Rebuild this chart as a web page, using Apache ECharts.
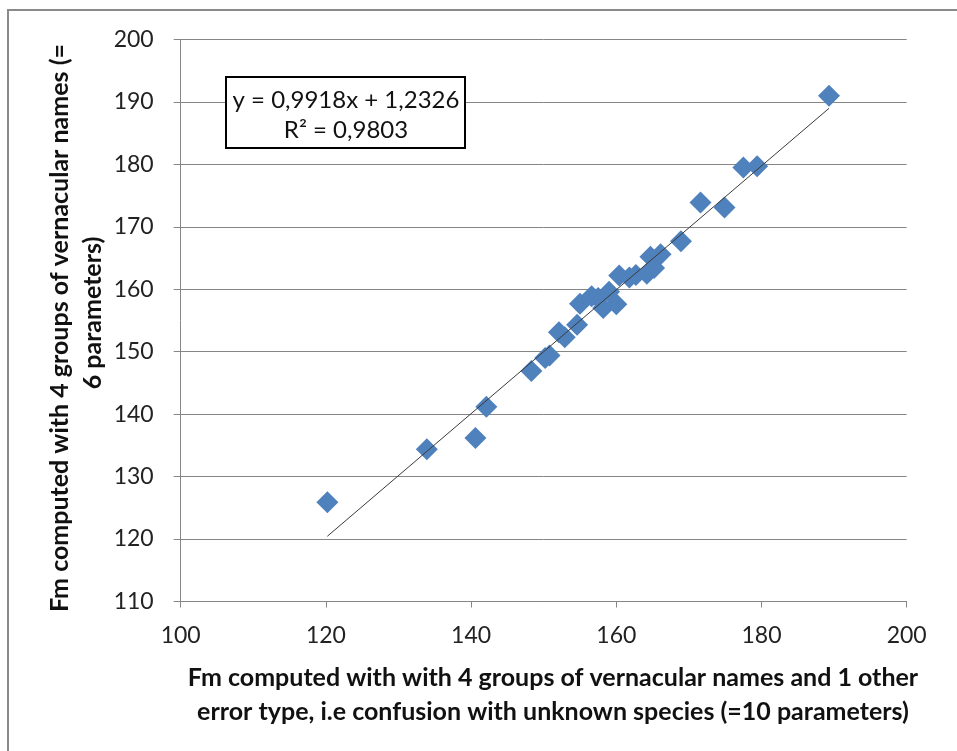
<!DOCTYPE html>
<html>
<head>
<meta charset="utf-8">
<script src="https://cdn.jsdelivr.net/npm/echarts@6/dist/echarts.min.js"></script>
<style>
html,body{margin:0;padding:0;background:#fff;}
#chart{width:957px;height:751px;}
</style>
</head>
<body>
<div id="chart"></div>
<script>
// Data
const xVals = [120.2, 133.9, 140.6, 142.1, 148.3, 150.2, 150.8, 152.1, 152.9, 154.6, 155.0, 156.6, 157.5, 158.2, 159.0, 160.0, 160.4, 161.8, 162.7, 164.2, 164.7, 165.2, 166.1, 168.9, 171.6, 174.9, 177.5, 179.4, 189.3];
const yVals = [125.9, 134.4, 136.2, 141.2, 146.9, 149.0, 149.4, 153.1, 152.3, 154.3, 157.7, 158.9, 158.6, 157.0, 159.6, 157.6, 162.2, 161.9, 162.3, 162.5, 165.2, 163.4, 165.6, 167.7, 173.9, 173.1, 179.5, 179.7, 191.0];
const xTicks = [100, 120, 140, 160, 180, 200];
const yTicks = [110, 120, 130, 140, 150, 160, 170, 180, 190, 200];
const trendSlope = 0.9918;
const trendIntercept = 1.2326;
const equationLines = ['y = 0,9918x + 1,2326', 'R² = 0,9803'];
const xTitleLines = ['Fm computed with with 4 groups of vernacular names and 1 other', 'error type, i.e confusion with unknown species (=10 parameters)'];
const yTitleLines = ['Fm computed with 4 groups of vernacular names (=', '6 parameters)'];

const points = xVals.map((x, i) => [x, yVals[i]]);
const xMinData = Math.min(...xVals), xMaxData = Math.max(...xVals);
const trend = [[xMinData, trendSlope * xMinData + trendIntercept], [xMaxData, trendSlope * xMaxData + trendIntercept]];

const FONT = 'Lato';
const chart = echarts.init(document.getElementById('chart'));
chart.setOption({
  animation: false,
  backgroundColor: '#fff',
  grid: {left: 180.7, right: 50.3, top: 39.5, bottom: 149.5, containLabel: false},
  xAxis: {
    type: 'value', min: xTicks[0], max: xTicks[xTicks.length - 1], interval: 20,
    axisLine: {show: true, lineStyle: {color: '#868686', width: 1}},
    axisTick: {show: true, inside: false, length: 6, lineStyle: {color: '#868686'}},
    splitLine: {show: false},
    axisLabel: {color: '#222', fontSize: 23, fontFamily: FONT, margin: 23}
  },
  yAxis: {
    type: 'value', min: yTicks[0], max: yTicks[yTicks.length - 1], interval: 10,
    axisLine: {show: true, lineStyle: {color: '#868686', width: 1}},
    axisTick: {show: true, inside: false, length: 7, lineStyle: {color: '#868686'}},
    splitLine: {show: true, lineStyle: {color: '#868686', width: 1}},
    axisLabel: {color: '#222', fontSize: 23, fontFamily: FONT, margin: 27}
  },
  series: [
    {
      type: 'scatter', data: points, symbol: 'diamond', symbolSize: 22,
      itemStyle: {color: '#4F81BD', opacity: 1}, z: 3
    },
    {
      type: 'line', data: trend, symbol: 'none', showSymbol: false,
      lineStyle: {color: '#3a3a3a', width: 1}, z: 4
    }
  ],
  graphic: [
    {type: 'rect', shape: {x: 8, y: 10, width: 1000, height: 800}, style: {fill: 'none', stroke: '#8a8a8a', lineWidth: 2}, z: -10, silent: true},
    {type: 'rect', shape: {x: 226, y: 77, width: 239, height: 71}, style: {fill: '#fff', stroke: '#000', lineWidth: 2}, z: 10},
    {type: 'text', x: 346, y: 100, z: 11, style: {text: equationLines[0], fontFamily: FONT, fontSize: 24, fill: '#111', align: 'center', verticalAlign: 'middle'}},
    {type: 'text', x: 346, y: 130, z: 11, style: {text: equationLines[1], fontFamily: FONT, fontSize: 24, fill: '#111', align: 'center', verticalAlign: 'middle'}},
    {type: 'text', x: 553, y: 678, style: {text: xTitleLines[0], fontFamily: FONT, fontWeight: 'bold', fontSize: 25, fill: '#111', align: 'center', verticalAlign: 'middle'}},
    {type: 'text', x: 553, y: 712, style: {text: xTitleLines[1], fontFamily: FONT, fontWeight: 'bold', fontSize: 25, fill: '#111', align: 'center', verticalAlign: 'middle'}},
    {type: 'text', x: 60, y: 328, rotation: Math.PI / 2, style: {text: yTitleLines[0], fontFamily: FONT, fontWeight: 'bold', fontSize: 25, fill: '#111', align: 'center', verticalAlign: 'middle'}},
    {type: 'text', x: 93, y: 313, rotation: Math.PI / 2, style: {text: yTitleLines[1], fontFamily: FONT, fontWeight: 'bold', fontSize: 25, fill: '#111', align: 'center', verticalAlign: 'middle'}}
  ]
});
</script>
</body>
</html>
